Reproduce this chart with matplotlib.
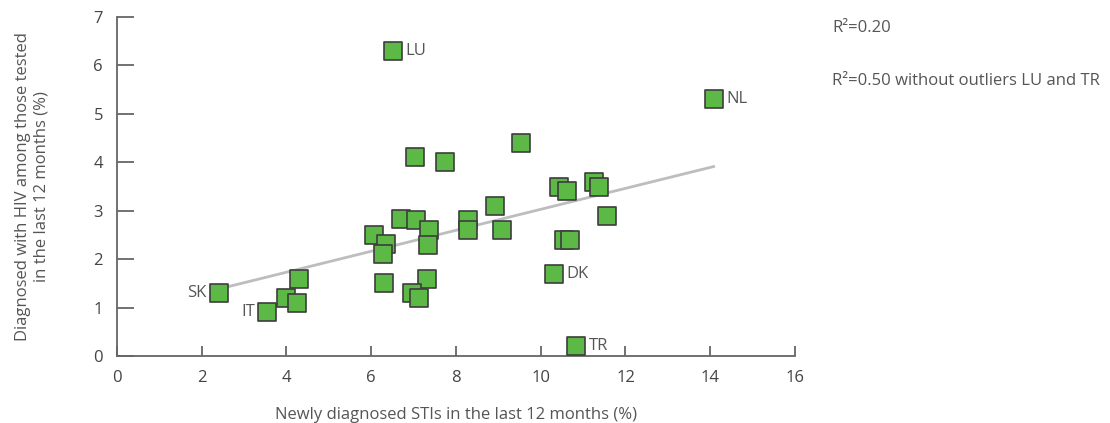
import numpy as np
import matplotlib
matplotlib.use("Agg")
import matplotlib.pyplot as plt

plt.rcParams['font.family'] = ['Open Sans', 'DejaVu Sans']

# Data
sti = [2.4, 3.55, 4.0, 4.25, 4.3, 6.07, 6.34, 6.28, 6.3, 6.71, 7.05, 7.36, 7.33, 7.32,
       6.97, 7.13, 7.04, 7.73, 8.29, 8.29, 8.92, 9.54, 9.08, 10.43, 10.63, 11.25, 11.38,
       11.57, 10.56, 10.68, 10.31, 10.83, 6.52, 14.08]
hiv = [1.3, 0.9, 1.2, 1.1, 1.6, 2.5, 2.31, 2.1, 1.5, 2.82, 2.8, 2.6, 2.3, 1.6,
       1.3, 1.2, 4.1, 4.0, 2.8, 2.6, 3.1, 4.4, 2.6, 3.5, 3.4, 3.6, 3.5,
       2.9, 2.4, 2.4, 1.7, 0.2, 6.3, 5.3]
names = ['SK', 'IT', '', '', '', '', '', '', '', '', '', '', '', '',
         '', '', '', '', '', '', '', '', '', '', '', '', '',
         '', '', '', 'DK', 'TR', 'LU', 'NL']
label_side = {'SK': 'left', 'IT': 'left', 'DK': 'right', 'TR': 'right', 'LU': 'right', 'NL': 'right'}
x_ticks = [0, 2, 4, 6, 8, 10, 12, 14, 16]
y_ticks = [0, 1, 2, 3, 4, 5, 6, 7]

fig = plt.figure(figsize=(11.1, 4.23), dpi=100)
ax = fig.add_axes([0.1054, 0.1584, 0.6108, 0.8014])

x = np.array(sti)
y = np.array(hiv)
slope, intercept = np.polyfit(x, y, 1)
xs = np.array([x.min() + 0.1, x.max()])
ax.plot(xs, slope * xs + intercept, color='#bdbdbd', lw=2, zorder=1)

ax.scatter(x, y, marker='s', s=150, facecolor='#5cb946', edgecolor='#3d3d3d',
           linewidths=1.2, zorder=3)

for xi, yi, n in zip(x, y, names):
    if not n:
        continue
    if label_side[n] == 'right':
        ax.annotate(n, (xi, yi), xytext=(9, 0), textcoords='offset points',
                    ha='left', va='center', fontsize=12, color='#555555')
    else:
        ax.annotate(n, (xi, yi), xytext=(-9, 0), textcoords='offset points',
                    ha='right', va='center', fontsize=12, color='#555555')

ax.set_xlim(0, 16)
ax.set_ylim(0, 7)
ax.set_xticks(x_ticks)
ax.set_yticks(y_ticks)
for s in ['top', 'right']:
    ax.spines[s].set_visible(False)
for s in ['left', 'bottom']:
    ax.spines[s].set_color('#666666')
    ax.spines[s].set_linewidth(1.3)
ax.tick_params(axis='y', direction='in', length=12, width=1.3, color='#666666',
               labelsize=12, labelcolor='#444444', pad=10)
ax.tick_params(axis='x', direction='in', length=7, width=1.3, color='#666666',
               labelsize=12, labelcolor='#444444', pad=10)

ax.set_xlabel('Newly diagnosed STIs in the last 12 months (%)', fontsize=12,
              color='#555555', labelpad=15)
ax.set_ylabel('Diagnosed with HIV among those tested\nin the last 12 months (%)',
              fontsize=12, color='#555555', labelpad=32, linespacing=1.2)

fig.text(0.750, 0.933, 'R²=0.20', fontsize=12, color='#555555', va='center')
fig.text(0.750, 0.808, 'R²=0.50 without outliers LU and TR', fontsize=12,
         color='#555555', va='center')

fig.savefig('out.png', dpi=100)
